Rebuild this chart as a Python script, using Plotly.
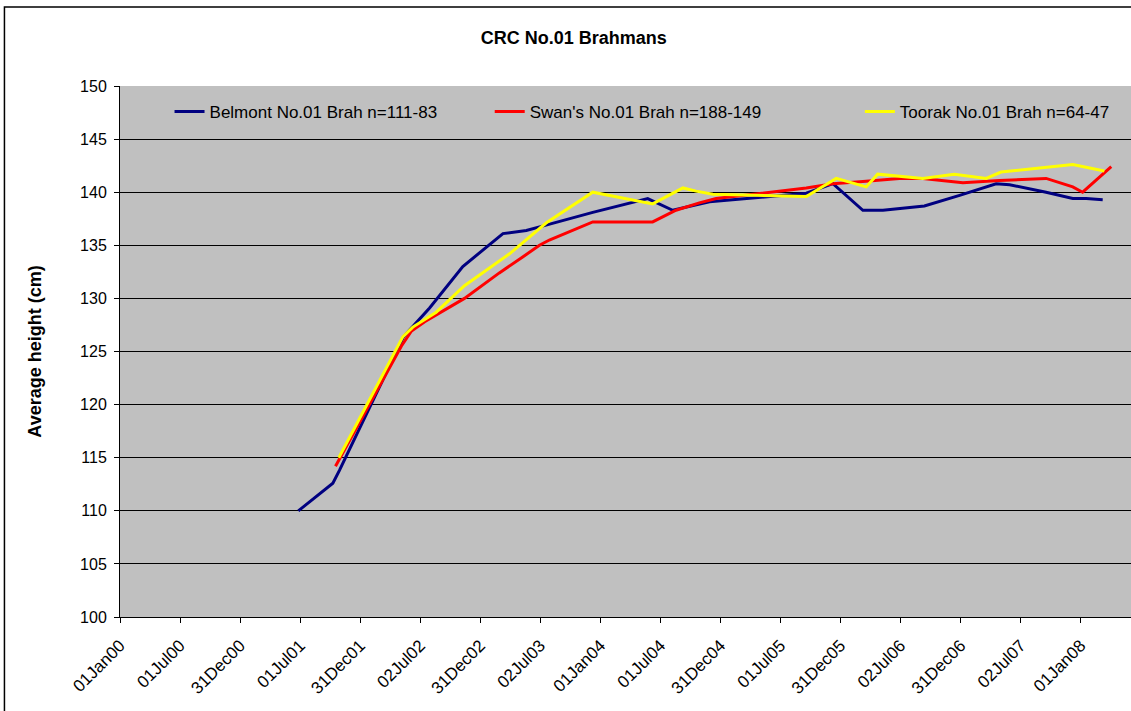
import pandas as pd
import plotly.graph_objects as go

# Average height of the CRC No.01 Brahman cohort at three properties
belmont_dates = ["2001-06-26", "2001-10-09", "2001-10-29", "2002-05-12", "2002-07-30",
                 "2002-11-08", "2003-03-10", "2003-05-20", "2003-07-19", "2003-12-08",
                 "2004-05-23", "2004-08-07", "2004-11-27", "2005-02-06", "2005-09-17",
                 "2005-12-07", "2006-03-08", "2006-05-08", "2006-09-11", "2006-12-27",
                 "2007-04-17", "2007-05-28", "2007-09-16", "2007-12-06", "2008-01-16",
                 "2008-03-06"]
belmont_height = [110.0, 112.6, 113.8, 126.4, 129.1, 133.0, 136.1, 136.4, 136.9, 138.1,
                  139.4, 138.3, 139.1, 139.3, 139.9, 140.8, 138.3, 138.3, 138.7, 139.7,
                  140.8, 140.7, 140.0, 139.4, 139.4, 139.3]

swan_dates = ["2001-10-17", "2002-05-05", "2002-06-04", "2002-07-15", "2002-11-13",
              "2003-02-27", "2003-05-09", "2003-06-29", "2003-07-29", "2003-12-08",
              "2004-06-07", "2004-08-17", "2004-10-27", "2004-12-17", "2005-09-17",
              "2005-12-07", "2006-03-08", "2006-06-27", "2006-09-06", "2007-01-06",
              "2007-04-27", "2007-09-16", "2007-12-06", "2008-01-05", "2008-04-01"]
swan_height = [114.2, 125.5, 126.9, 127.8, 130.0, 132.4, 133.9, 135.0, 135.5, 137.2,
               137.2, 138.3, 139.0, 139.4, 140.4, 140.8, 141.0, 141.3, 141.3, 140.9,
               141.1, 141.3, 140.5, 140.0, 142.4]

toorak_dates = ["2001-10-27", "2002-05-10", "2002-06-09", "2002-08-19", "2002-11-13",
                "2003-03-30", "2003-07-19", "2003-12-08", "2004-06-07", "2004-09-07",
                "2004-10-17", "2004-12-07", "2005-09-17", "2005-12-17", "2006-03-18",
                "2006-04-22", "2006-09-06", "2006-12-11", "2007-03-18", "2007-05-02",
                "2007-12-06", "2008-03-11"]
toorak_height = [115.0, 126.4, 127.3, 128.7, 131.2, 134.2, 137.1, 140.0, 138.9, 140.4,
                 140.1, 139.8, 139.6, 141.3, 140.5, 141.7, 141.3, 141.7, 141.3, 141.9,
                 142.6, 142.0]

series_names = ["Belmont No.01 Brah n=111-83",
                "Swan's No.01 Brah n=188-149",
                "Toorak No.01 Brah n=64-47"]
series_colors = ["#000080", "#FF0000", "#FFFF00"]

tick_labels = ["01Jan00", "01Jul00", "31Dec00", "01Jul01", "31Dec01", "02Jul02",
               "31Dec02", "02Jul03", "01Jan04", "01Jul04", "31Dec04", "01Jul05",
               "31Dec05", "02Jul06", "31Dec06", "02Jul07", "01Jan08"]

# Half-year date axis: major unit of 182.5 days from 1 Jan 2000
axis_start = pd.Timestamp("2000-01-01")
tick_vals = [axis_start + pd.Timedelta(days=182.5 * k) for k in range(len(tick_labels))]
axis_end = axis_start + pd.Timedelta(days=3073)

FONT = "Liberation Sans, Arial, sans-serif"

fig = go.Figure()
legend_ids = ["legend", "legend2", "legend3"]
for dates, heights, name, color, lg in zip(
        [belmont_dates, swan_dates, toorak_dates],
        [belmont_height, swan_height, toorak_height],
        series_names, series_colors, legend_ids):
    fig.add_trace(go.Scatter(
        x=pd.to_datetime(dates), y=heights, mode="lines", name=name,
        line=dict(color=color, width=3), legend=lg,
    ))

legend_style = dict(orientation="h", xanchor="left", yanchor="middle",
                    bgcolor="rgba(0,0,0,0)", font=dict(family=FONT, size=17, color="black"))

fig.update_layout(
    width=1131, height=711,
    margin=dict(l=120, r=0, t=86, b=94),
    paper_bgcolor="white",
    plot_bgcolor="#C0C0C0",
    font=dict(family=FONT, color="black"),
    title=dict(text="<b>CRC No.01 Brahmans</b>", font=dict(size=18, family=FONT, color="black"),
               x=0.4488, xanchor="center", xref="paper",
               y=1 - 38 / 711, yanchor="middle", yref="container"),
    legend=dict(x=0.049, y=0.951, **legend_style),
    legend2=dict(x=0.3657, y=0.951, **legend_style),
    legend3=dict(x=0.7318, y=0.951, **legend_style),
    xaxis=dict(
        type="date", range=[axis_start, axis_end],
        tickmode="array", tickvals=tick_vals, ticktext=tick_labels,
        tickangle=-45, tickfont=dict(size=17, family=FONT, color="black"),
        ticks="outside", ticklen=5, tickcolor="black", ticklabelstandoff=6,
        showline=True, linecolor="black", linewidth=1,
        showgrid=False, zeroline=False,
    ),
    yaxis=dict(
        range=[100, 150], tickmode="linear", tick0=100, dtick=5,
        tickfont=dict(size=16, family=FONT, color="black"),
        ticks="outside", ticklen=5, tickcolor="black", ticklabelstandoff=4,
        showline=True, linecolor="black", linewidth=1,
        showgrid=True, gridcolor="black", gridwidth=1, zeroline=False,
        title=dict(text="<b>Average height (cm)</b>", font=dict(size=18, family=FONT, color="black"),
                   standoff=33),
    ),
    showlegend=True,
)

# Outer chart frame
fig.add_shape(type="rect", xref="paper", yref="paper",
              x0=-0.1143, x1=1.2, y0=-0.5, y1=1.1488,
              line=dict(color="black", width=1.5), fillcolor="rgba(0,0,0,0)", layer="below")

fig.write_html("out.html")
